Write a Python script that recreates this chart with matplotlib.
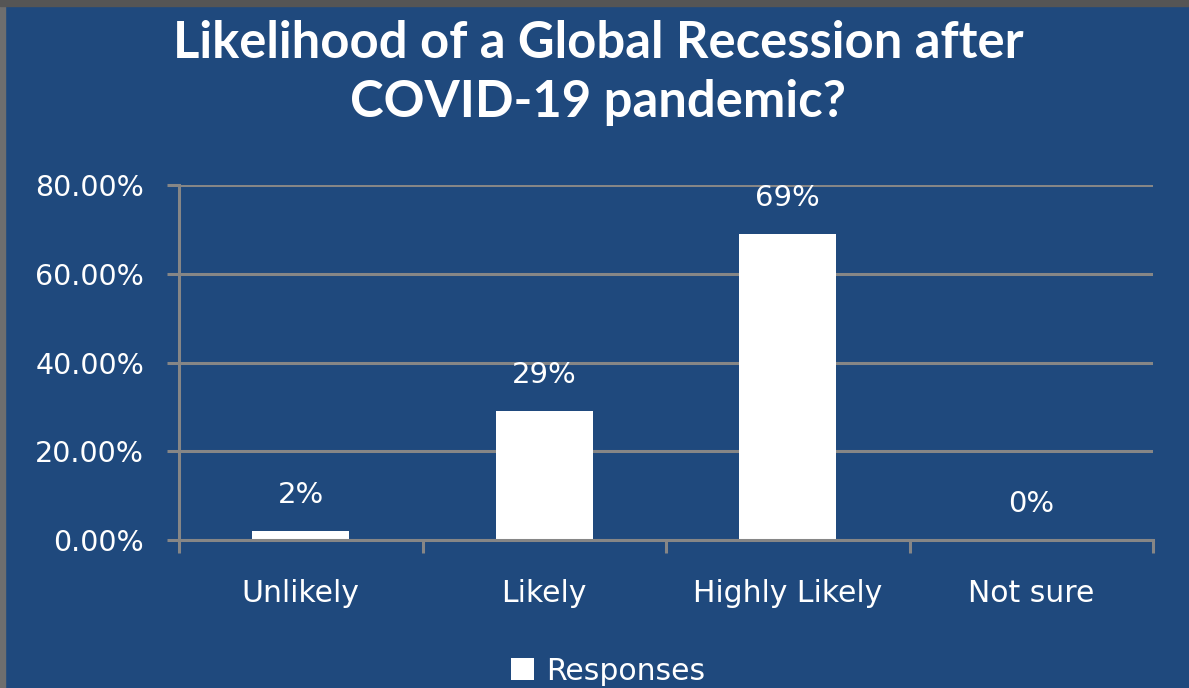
import matplotlib
matplotlib.use("Agg")
import matplotlib.pyplot as plt
from matplotlib.patches import Rectangle
from matplotlib.ticker import FixedLocator, PercentFormatter

categories = ["Unlikely", "Likely", "Highly Likely", "Not sure"]
values = [0.02, 0.29, 0.69, 0.00]
value_labels = ["2%", "29%", "69%", "0%"]
yticks = [0.0, 0.2, 0.4, 0.6, 0.8]
series_name = "Responses"
title = "Likelihood of a Global Recession after\nCOVID-19 pandemic?"

BG = "#1F497D"
GRID = "#868686"
W, H = 1189, 688

fig = plt.figure(figsize=(W / 100, H / 100), dpi=100, facecolor=BG)
ax = fig.add_axes([179 / W, 1 - 540 / H, (1153 - 179) / W, (540 - 185) / H])
ax.set_facecolor(BG)

x = list(range(len(categories)))
bars = ax.bar(x, values, width=0.40, color="white", edgecolor="none",
              label=series_name, zorder=3)

for xi, v, lab in zip(x, values, value_labels):
    ax.annotate(lab, (xi, v), xytext=(0, 26), textcoords="offset points",
                ha="center", va="center", color="white", fontsize=21,
                family="DejaVu Sans")

ax.set_xlim(-0.5, len(categories) - 0.5)
ax.set_ylim(0, 0.8)
ax.set_yticks(yticks)
ax.yaxis.set_major_formatter(PercentFormatter(1.0, decimals=2))
ax.tick_params(axis="y", colors="white", labelsize=20.5, length=9, width=2.2,
               pad=16, color=GRID)
for t in ax.get_yticklabels():
    t.set_color("white")

ax.xaxis.set_major_locator(FixedLocator([i - 0.5 for i in range(len(categories) + 1)]))
ax.xaxis.set_minor_locator(FixedLocator(x))
ax.set_xticklabels([], minor=False)
ax.set_xticklabels(categories, minor=True)
ax.tick_params(axis="x", which="major", length=9, width=2.2, color=GRID)
ax.tick_params(axis="x", which="minor", length=0, pad=28, labelsize=21.5,
               labelcolor="white")

ax.grid(axis="y", color=GRID, linewidth=2.2, zorder=0)
ax.set_axisbelow(True)
for s in ["top", "right"]:
    ax.spines[s].set_visible(False)
for s in ["left", "bottom"]:
    ax.spines[s].set_color(GRID)
    ax.spines[s].set_linewidth(2.2)
    ax.spines[s].set_zorder(4)

fig.text(598 / W, 1 - 73 / H, title, ha="center", va="center", color="white",
         fontsize=36.5, fontweight="bold", family="Lato", linespacing=1.3)

leg = fig.legend(handles=[bars], labels=[series_name], loc="center",
                 bbox_to_anchor=(608 / W, 1 - 671 / H), frameon=False,
                 fontsize=21.5, handlelength=0.78, handleheight=0.78,
                 handletextpad=0.4, labelcolor="white")

# border strips
fig.patches.append(Rectangle((0, 0), 5 / W, 1, transform=fig.transFigure,
                             color="#6e6e6e", zorder=10))
fig.patches.append(Rectangle((0, 1 - 6 / H), 1, 6 / H, transform=fig.transFigure,
                             color="#555555", zorder=10))

fig.savefig("out.png", dpi=100, facecolor=BG)
